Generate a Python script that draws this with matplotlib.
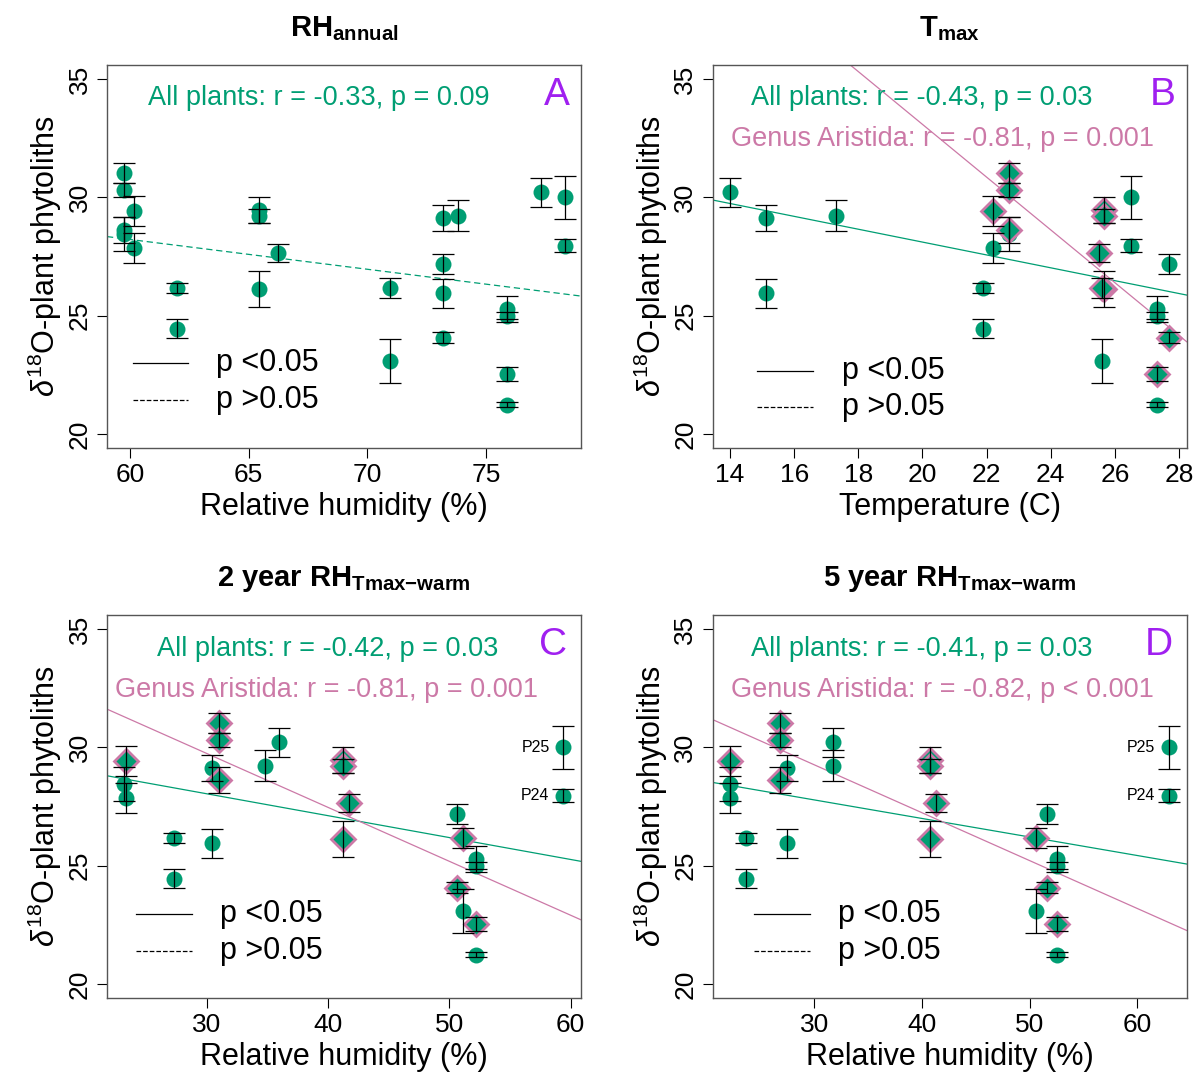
import matplotlib
matplotlib.use('Agg')
import matplotlib.pyplot as plt
import numpy as np

plt.rcParams['font.family'] = 'Liberation Sans'
plt.rcParams['mathtext.fontset'] = 'custom'
plt.rcParams['mathtext.rm'] = 'Liberation Sans'
plt.rcParams['mathtext.it'] = 'Liberation Sans:italic'
plt.rcParams['mathtext.bf'] = 'Liberation Sans:bold'

GREEN = '#009E73'
PINK = '#CC79A7'
PURPLE = '#A020F0'

# phytolith d18O per sample (mean, error) and whether the plant is Aristida
d18o = np.array([31.02, 30.31, 29.43, 28.62, 28.47, 27.85, 26.17, 24.44, 29.13, 25.94,
                 29.23, 30.21, 29.47, 29.20, 27.63, 26.14, 26.17, 23.07, 27.18, 24.07,
                 25.28, 25.00, 22.54, 21.23, 30.00, 27.96])
d18o_err = np.array([0.42, 0.28, 0.65, 0.56, 0.72, 0.63, 0.20, 0.40, 0.55, 0.60,
                     0.66, 0.62, 0.55, 0.30, 0.38, 0.76, 0.44, 0.92, 0.44, 0.22,
                     0.53, 0.15, 0.30, 0.11, 0.92, 0.27])
aristida = np.array([1, 1, 1, 1, 0, 0, 0, 0, 0, 0,
                     0, 0, 1, 1, 1, 1, 1, 0, 0, 1,
                     0, 0, 1, 0, 0, 0], dtype=bool)
sample_ids = ['', '', '', '', '', '', '', '', '', '',
              '', '', '', '', '', '', '', '', '', '',
              '', '', '', '', 'P25', 'P24']

# climate variables at each site
rh_annual = np.array([59.75, 59.75, 60.18, 59.75, 59.75, 60.18, 61.96, 61.96, 73.2, 73.2,
                      73.8, 77.3, 65.44, 65.44, 66.24, 65.44, 70.96, 70.96, 73.2, 73.2,
                      75.89, 75.89, 75.89, 75.89, 78.31, 78.31])
t_max = np.array([22.71, 22.71, 22.2, 22.71, 22.71, 22.2, 21.9, 21.9, 15.11, 15.11,
                  17.31, 14.0, 25.67, 25.67, 25.51, 25.67, 25.59, 25.61, 27.7, 27.7,
                  27.3, 27.3, 27.3, 27.3, 26.49, 26.49])
rh_2yr = np.array([31.02, 31.02, 23.35, 31.02, 23.19, 23.35, 27.31, 27.31, 30.41, 30.41,
                   34.81, 35.91, 41.26, 41.26, 41.68, 41.26, 51.1, 51.1, 50.66, 50.66,
                   52.17, 52.17, 52.17, 52.17, 59.4, 59.4])
rh_5yr = np.array([26.81, 26.81, 22.17, 26.81, 22.17, 22.17, 23.62, 23.62, 27.49, 27.49,
                   31.7, 31.7, 40.74, 40.74, 41.27, 40.74, 50.59, 50.59, 51.58, 51.58,
                   52.57, 52.57, 52.57, 52.57, 62.97, 62.97])

# regression lines (intercept, slope)
fit_all_a = (35.78, -0.126)
fit_all_b = (33.55, -0.272)
fit_ari_b = (55.41, -1.116)
fit_all_c = (30.815, -0.0926)
fit_ari_c = (36.58, -0.228)
fit_all_d = (30.13, -0.0784)
fit_ari_d = (35.34, -0.2026)

fig = plt.figure(figsize=(11.99, 10.75), dpi=100)
W, H = 1199, 1075


def make_axes(left, top, right, bottom):
    return fig.add_axes([left / W, 1 - bottom / H, (right - left) / W, (bottom - top) / H])


def panel(ax, x, xlim, xticks, xlabel, title, letter, stats, fits, legend_pos, mark_aristida=True):
    ax.set_xlim(*xlim)
    ax.set_ylim(19.4, 35.6)

    for a, b, col, ls in fits:
        if ls == '--':
            ax.axline((0, a), slope=b, color=col, lw=0.9, ls=(0, (5, 3)), zorder=2)
        else:
            ax.axline((0, a), slope=b, color=col, lw=0.9, zorder=2)

    if mark_aristida:
        ax.plot(x[~aristida], d18o[~aristida], 'o', ms=11.5, color=GREEN, mec='none', zorder=3)
        ax.plot(x[aristida], d18o[aristida], 'D', ms=12.5, mfc=GREEN, mec=PINK, mew=2.0, zorder=3)
    else:
        ax.plot(x, d18o, 'o', ms=11.5, color=GREEN, mec='none', zorder=3)
    ax.errorbar(x, d18o, yerr=d18o_err, fmt='none', ecolor='black', elinewidth=0.9,
                capsize=8, capthick=0.9, zorder=4)

    ax.set_xticks(xticks)
    ax.set_yticks([20, 25, 30, 35])
    ax.tick_params(direction='out', length=7, width=0.8, labelsize=19, pad=4)
    for lab in ax.get_yticklabels():
        lab.set_rotation(90)
        lab.set_va('center')
    for s in ax.spines.values():
        s.set_color('#555555')
        s.set_linewidth(1.0)

    ax.set_xlabel(xlabel, fontsize=22)
    ax.xaxis.set_label_coords(0.5, -0.115)
    ax.set_ylabel(r'$\mathit{\delta}^{18}$O-plant phytoliths', fontsize=22)
    ax.yaxis.set_label_coords(-0.09, 0.5)

    ax.text(0.5, 1 + 29 / 383, title, transform=ax.transAxes, ha='center', va='baseline',
            fontsize=21, fontweight='bold')
    ax.text(*letter[1:], letter[0], transform=ax.transAxes, ha='center', va='center',
            fontsize=28, color=PURPLE)
    for tx, ty, txt, col in stats:
        ax.text(tx, ty, txt, transform=ax.transAxes, ha='center', va='center',
                fontsize=19.5, color=col)

    lx0, lx1, tx, y1, y2 = legend_pos
    ax.plot([lx0, lx1], [y1, y1], color='black', lw=0.9, transform=ax.transAxes)
    ax.plot([lx0, lx1], [y2, y2], color='black', lw=0.9, ls='--', transform=ax.transAxes)
    ax.text(tx, y1, 'p <0.05', transform=ax.transAxes, va='center', fontsize=22)
    ax.text(tx, y2, 'p >0.05', transform=ax.transAxes, va='center', fontsize=22)


ax_a = make_axes(107, 65, 581, 448)
ax_b = make_axes(712.7, 65, 1186.7, 448)
ax_c = make_axes(107, 615, 581, 998)
ax_d = make_axes(712.7, 615, 1186.7, 998)

panel(ax_a, rh_annual, (59.03, 79.0), [60, 65, 70, 75], 'Relative humidity (%)',
      r'$\mathbf{RH}_{\mathbf{annual}}$', ('A', 0.949, 0.922),
      [(0.447, 0.914, 'All plants: r = -0.33, p = 0.09', GREEN)],
      [(fit_all_a[0], fit_all_a[1], GREEN, '--')],
      (0.055, 0.171, 0.231, 0.222, 0.125), mark_aristida=False)

panel(ax_b, t_max, (13.46, 28.24), list(range(14, 29, 2)), 'Temperature (C)',
      r'$\mathbf{T}_{\mathbf{max}}$', ('B', 0.950, 0.922),
      [(0.4416, 0.914, 'All plants: r = -0.43, p = 0.03', GREEN),
       (0.4838, 0.807, 'Genus Aristida: r = -0.81, p = 0.001', PINK)],
      [(fit_all_b[0], fit_all_b[1], GREEN, '-'), (fit_ari_b[0], fit_ari_b[1], PINK, '-')],
      (0.0935, 0.2116, 0.2727, 0.201, 0.107))

panel(ax_c, rh_2yr, (21.76, 60.85), [30, 40, 50, 60], 'Relative humidity (%)',
      r'2 year $\mathbf{RH}_{\mathbf{Tmax{-}warm}}$', ('C', 0.941, 0.922),
      [(0.466, 0.911, 'All plants: r = -0.42, p = 0.03', GREEN),
       (0.464, 0.804, 'Genus Aristida: r = -0.81, p = 0.001', PINK)],
      [(fit_all_c[0], fit_all_c[1], GREEN, '-'), (fit_ari_c[0], fit_ari_c[1], PINK, '-')],
      (0.061, 0.179, 0.238, 0.219, 0.123))

panel(ax_d, rh_5yr, (20.56, 64.58), [30, 40, 50, 60], 'Relative humidity (%)',
      r'5 year $\mathbf{RH}_{\mathbf{Tmax{-}warm}}$', ('D', 0.9416, 0.922),
      [(0.4416, 0.911, 'All plants: r = -0.41, p = 0.03', GREEN),
       (0.4838, 0.804, 'Genus Aristida: r = -0.82, p < 0.001', PINK)],
      [(fit_all_d[0], fit_all_d[1], GREEN, '-'), (fit_ari_d[0], fit_ari_d[1], PINK, '-')],
      (0.0872, 0.2053, 0.2643, 0.219, 0.123))

# outlier sites labelled in the RH(Tmax-warm) panels
for ax, x in ((ax_c, rh_2yr), (ax_d, rh_5yr)):
    for xi, yi, name in zip(x, d18o, sample_ids):
        if name:
            ax.annotate(name, (xi, yi), xytext=(-10, 0), textcoords='offset points',
                        ha='right', va='center', fontsize=11.5)

fig.savefig('out.png', dpi=100)
